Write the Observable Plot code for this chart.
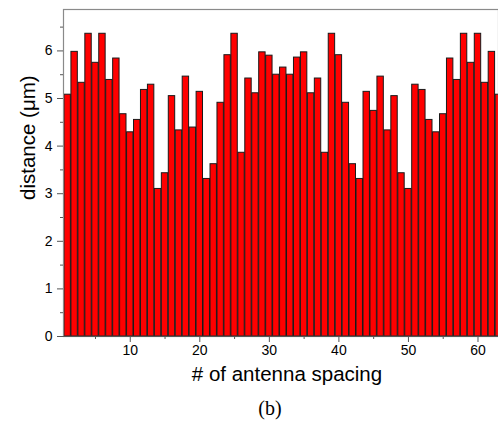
<!DOCTYPE html>
<html>
<head>
<meta charset="utf-8">
<script src="https://cdn.jsdelivr.net/npm/d3@7"></script>
<script src="https://cdn.jsdelivr.net/npm/@observablehq/plot@0.6"></script>
<style>
  body { margin: 0; background: #fff; }
  #wrap { position: relative; width: 498px; height: 423px; overflow: hidden; }
  #caption { position: absolute; left: 0; width: 540px; top: 397px; text-align: center;
             font-family: "Liberation Serif", "DejaVu Serif", serif; font-size: 20px; color: #000; }
</style>
</head>
<body>
<div id="wrap"><div id="chart"></div><div id="caption">(b)</div></div>
<script>
// antenna spacing index
const spacing = d3.range(1, 64);
// distance (µm)
const distance = [
  5.08, 5.98, 5.33, 6.36, 5.75, 6.36, 5.39, 5.84, 4.67, 4.29,
  4.55, 5.18, 5.29, 3.10, 3.43, 5.05, 4.33, 5.46, 4.39, 5.14,
  3.31, 3.62, 4.91, 5.91, 6.36, 3.86, 5.42, 5.11, 5.97, 5.90,
  5.50, 5.65, 5.50, 5.86, 5.97, 5.11, 5.42, 3.86, 6.36, 5.91,
  4.91, 3.62, 3.31, 5.14, 4.74, 5.46, 4.33, 5.05, 3.43, 3.10,
  5.29, 5.18, 4.55, 4.29, 4.67, 5.84, 5.39, 6.36, 5.75, 6.36,
  5.33, 5.98, 5.08
];
const yMajor = [0, 1, 2, 3, 4, 5, 6];
const yMinor = [0.5, 1.5, 2.5, 3.5, 4.5, 5.5, 6.5];
const xMajor = [10, 20, 30, 40, 50, 60];
const xMinor = [5, 15, 25, 35, 45, 55];

const data = spacing.map((s, i) => ({s, d: distance[i]}));
const halfBar = 0.46;

const font = "'Liberation Sans', Arial, sans-serif";
const chart = Plot.plot({
  width: 498,
  height: 390,
  marginLeft: 63,
  marginRight: 0,
  marginTop: 9,
  marginBottom: 54,
  style: {fontFamily: font, fontSize: "14px", color: "#000", background: "#fff"},
  x: {domain: [0.4, 62.95]},
  y: {domain: [0, 6.87]},
  marks: [
    Plot.rectY(data, {x1: d => d.s - halfBar, x2: d => d.s + halfBar, y: "d",
      fill: "#ff0000", stroke: "#1a1a1a", strokeWidth: 1, clip: true}),
    Plot.frame({stroke: "#8a8a8a", strokeWidth: 1.2}),
    Plot.ruleY([0], {stroke: "#555"}),
    Plot.axisY(yMajor, {tickSize: 6, tickPadding: 5, label: null, stroke: "#555", fontSize: 14, fill: "#000"}),
    Plot.axisY(yMinor, {tickSize: 3, tickFormat: () => "", label: null, stroke: "#555"}),
    Plot.axisX(xMajor, {tickSize: 6, tickPadding: 3, label: null, stroke: "#555", fontSize: 14, fill: "#000"}),
    Plot.axisX(xMinor, {tickSize: 3, tickFormat: () => "", label: null, stroke: "#555"}),
    Plot.text(["# of antenna spacing"], {frameAnchor: "bottom", dy: 44, dx: 6,
      fontSize: 20.5, fontFamily: font, fill: "#000"}),
    Plot.text(["distance (\u03bcm)"], {frameAnchor: "left", dx: -35, dy: 27, rotate: -90,
      fontSize: 20.5, fontFamily: font, fill: "#000"})
  ]
});
document.getElementById("chart").appendChild(chart);
</script>
</body>
</html>
